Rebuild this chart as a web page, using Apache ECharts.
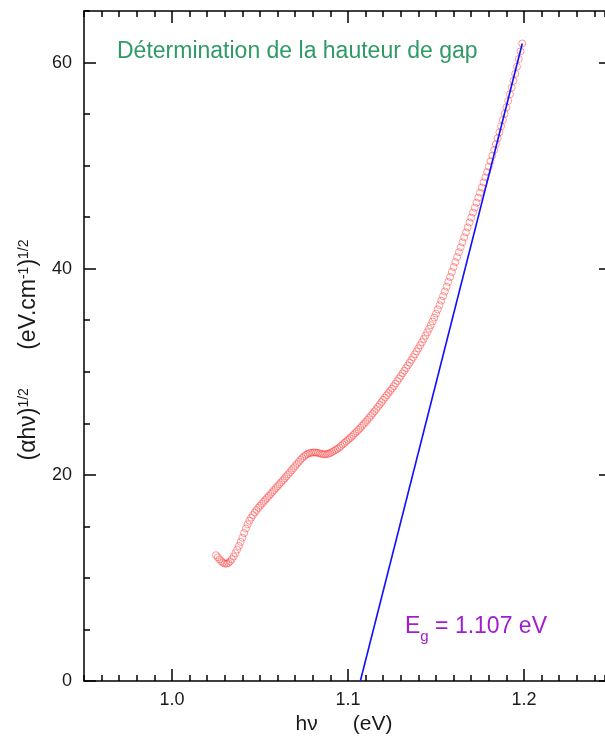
<!DOCTYPE html>
<html>
<head>
<meta charset="utf-8">
<script src="https://cdn.jsdelivr.net/npm/echarts@6/dist/echarts.min.js"></script>
<style>
  html, body { margin: 0; padding: 0; background: #fff; }
  #chart { width: 605px; height: 742px; }
</style>
</head>
<body>
<div id="chart"></div>
<script>
// Photon energy hν (eV) of each measured point
const photonEnergy = [
  1.025, 1.026, 1.027, 1.028, 1.029, 1.030, 1.031, 1.032, 1.033, 1.034,
  1.035, 1.036, 1.037, 1.038, 1.039, 1.040, 1.041, 1.042, 1.043, 1.044,
  1.045, 1.046, 1.047, 1.048, 1.049, 1.050, 1.051, 1.052, 1.053, 1.054,
  1.055, 1.056, 1.057, 1.058, 1.059, 1.060, 1.061, 1.062, 1.063, 1.064,
  1.065, 1.066, 1.067, 1.068, 1.069, 1.070, 1.071, 1.072, 1.073, 1.074,
  1.075, 1.076, 1.077, 1.078, 1.079, 1.080, 1.081, 1.082, 1.083, 1.084,
  1.085, 1.086, 1.087, 1.088, 1.089, 1.090, 1.091, 1.092, 1.093, 1.094,
  1.095, 1.096, 1.097, 1.098, 1.099, 1.100, 1.101, 1.102, 1.103, 1.104,
  1.105, 1.106, 1.107, 1.108, 1.109, 1.110, 1.111, 1.112, 1.113, 1.114,
  1.115, 1.116, 1.117, 1.118, 1.119, 1.120, 1.121, 1.122, 1.123, 1.124,
  1.125, 1.126, 1.127, 1.128, 1.129, 1.130, 1.131, 1.132, 1.133, 1.134,
  1.135, 1.136, 1.137, 1.138, 1.139, 1.140, 1.141, 1.142, 1.143, 1.144,
  1.145, 1.146, 1.147, 1.148, 1.149, 1.150, 1.151, 1.152, 1.153, 1.154,
  1.155, 1.156, 1.157, 1.158, 1.159, 1.160, 1.161, 1.162, 1.163, 1.164,
  1.165, 1.166, 1.167, 1.168, 1.169, 1.170, 1.171, 1.172, 1.173, 1.174,
  1.175, 1.176, 1.177, 1.178, 1.179, 1.180, 1.181, 1.182, 1.183, 1.184,
  1.185, 1.186, 1.187, 1.188, 1.189, 1.190, 1.191, 1.192, 1.193, 1.194,
  1.195, 1.196, 1.197, 1.198, 1.199
];

// (αhν)^1/2 in (eV.cm^-1)^1/2 for each photon energy
const sqrtAlphaHv = [
  12.2, 12.0, 11.8, 11.62, 11.48, 11.4, 11.38, 11.45, 11.6, 11.82,
  12.08, 12.4, 12.75, 13.1, 13.5, 13.9, 14.35, 14.8, 15.2, 15.55,
  15.85, 16.1, 16.35, 16.58, 16.8, 17.0, 17.19, 17.38, 17.57, 17.76,
  17.95, 18.14, 18.33, 18.52, 18.71, 18.9, 19.09, 19.28, 19.47, 19.66,
  19.85, 20.05, 20.25, 20.45, 20.65, 20.85, 21.05, 21.25, 21.45, 21.63,
  21.8, 21.93, 22.03, 22.1, 22.14, 22.16, 22.17, 22.16, 22.13, 22.08,
  22.03, 22.0, 21.99, 22.01, 22.06, 22.13, 22.22, 22.32, 22.42, 22.53,
  22.65, 22.8, 22.95, 23.1, 23.25, 23.4, 23.55, 23.7, 23.86, 24.03,
  24.2, 24.38, 24.56, 24.75, 24.94, 25.13, 25.33, 25.53, 25.74, 25.95,
  26.16, 26.38, 26.6, 26.82, 27.05, 27.28, 27.5, 27.72, 27.94, 28.16,
  28.38, 28.6, 28.85, 29.1, 29.35, 29.6, 29.85, 30.1, 30.36, 30.62,
  30.88, 31.14, 31.41, 31.69, 31.98, 32.27, 32.57, 32.87, 33.18, 33.5,
  33.83, 34.17, 34.52, 34.88, 35.25, 35.64, 36.05, 36.47, 36.9, 37.34,
  37.79, 38.25, 38.72, 39.2, 39.68, 40.16, 40.64, 41.12, 41.6, 42.08,
  42.56, 43.04, 43.52, 44.0, 44.48, 44.96, 45.44, 45.92, 46.4, 46.89,
  47.38, 47.87, 48.37, 48.87, 49.38, 49.9, 50.43, 50.97, 51.52, 52.08,
  52.65, 53.23, 53.82, 54.42, 55.03, 55.65, 56.28, 56.92, 57.57, 58.23,
  58.9, 59.6, 60.33, 61.08, 61.85
];

// Linear extrapolation of the absorption edge down to the energy axis
const gapEnergy = 1.107;
const fitEnergy = [gapEnergy, 1.199];
const fitValue = [0, 61.85];

// Axis ranges and labelled ticks
const xRange = [0.95, 1.246];
const yRange = [0, 65];
const xMajorTicks = [1.0, 1.1, 1.2];
const yMajorTicks = [0, 20, 40, 60];
const xMinorStep = 0.01;
const yMinorStep = 5;

const FONT = 'Liberation Sans, Arial, sans-serif';
const INK = '#1a1a1a';
const axisLineStyle = { color: '#000', width: 1.5 };

function majorAxis(position, range, ticks, opts) {
  return {
    type: 'value', position, min: range[0], max: range[1],
    axisLine: { show: opts.line !== false, onZero: false, lineStyle: axisLineStyle },
    axisTick: { show: true, inside: true, length: opts.tickLength || 12, customValues: ticks, lineStyle: axisLineStyle },
    axisLabel: {
      show: !!opts.labels, customValues: ticks, formatter: opts.fmt, margin: opts.margin || 10,
      fontSize: 18, fontFamily: FONT, color: INK
    },
    splitLine: { show: false }
  };
}

function minorAxis(position, range, step, show) {
  return {
    type: 'value', position, min: range[0], max: range[1], interval: step,
    axisLine: { show: false, onZero: false },
    axisTick: { show: show !== false, inside: true, length: 6, lineStyle: axisLineStyle },
    axisLabel: { show: false },
    splitLine: { show: false }
  };
}

const fmtX = v => v.toFixed(1);
const fmtY = v => String(Math.round(v));

const chart = echarts.init(document.getElementById('chart'), null, { renderer: 'canvas' });

chart.setOption({
  animation: false,
  backgroundColor: '#fff',
  grid: { left: 84, top: 11, right: 0, bottom: 61 },
  xAxis: [
    majorAxis('bottom', xRange, xMajorTicks, { labels: true, fmt: fmtX, margin: 10 }),
    minorAxis('bottom', xRange, xMinorStep),
    majorAxis('top', xRange, xMajorTicks, { fmt: fmtX }),
    minorAxis('top', xRange, xMinorStep)
  ],
  yAxis: [
    majorAxis('left', yRange, yMajorTicks, { labels: true, fmt: fmtY, margin: 12 }),
    minorAxis('left', yRange, yMinorStep),
    majorAxis('right', yRange, yMajorTicks, { fmt: fmtY, line: false, tickLength: 6 }),
    minorAxis('right', yRange, yMinorStep, false)
  ],
  series: [
    {
      type: 'scatter',
      xAxisIndex: 0, yAxisIndex: 0,
      data: photonEnergy.map((x, i) => [x, sqrtAlphaHv[i]]),
      symbol: 'circle',
      symbolSize: 7,
      itemStyle: { color: 'rgba(0,0,0,0)', borderColor: 'rgba(255,45,45,0.6)', borderWidth: 1 },
      silent: true,
      z: 2
    },
    {
      type: 'line',
      xAxisIndex: 0, yAxisIndex: 0,
      data: fitEnergy.map((x, i) => [x, fitValue[i]]),
      symbol: 'none',
      lineStyle: { color: '#1010ff', width: 1.6 },
      silent: true,
      z: 3
    }
  ],
  graphic: [
    {
      type: 'text', x: 117, y: 52,
      style: {
        text: 'Détermination de la hauteur de gap',
        fill: '#2f9a66', fontSize: 23, fontFamily: FONT,
        align: 'left', verticalAlign: 'middle'
      }
    },
    {
      type: 'text', x: 405, y: 627,
      style: {
        text: '{b|E}{s|g}{b| = ' + gapEnergy.toFixed(3) + ' eV}',
        fill: '#a21ccf', align: 'left', verticalAlign: 'middle',
        rich: {
          b: { fontSize: 23, fontFamily: FONT, lineHeight: 34, fill: '#a21ccf' },
          s: { fontSize: 15, fontFamily: FONT, lineHeight: 15, verticalAlign: 'bottom', fill: '#a21ccf' }
        }
      }
    },
    {
      type: 'text', x: 344, y: 724,
      style: {
        text: 'hν      (eV)',
        fill: INK, fontSize: 21, fontFamily: FONT,
        align: 'center', verticalAlign: 'middle'
      }
    },
    {
      type: 'text', x: 29, y: 350, rotation: Math.PI / 2,
      style: {
        text: '{b|(αhν)}{s|1/2}{b|      (eV.cm}{s|-1}{b|)}{s|1/2}',
        fill: INK, align: 'center', verticalAlign: 'middle',
        rich: {
          b: { fontSize: 23, fontFamily: FONT, lineHeight: 24, fill: INK },
          s: { fontSize: 14, fontFamily: FONT, lineHeight: 14, verticalAlign: 'top', fill: INK }
        }
      }
    }
  ]
});
</script>
</body>
</html>
